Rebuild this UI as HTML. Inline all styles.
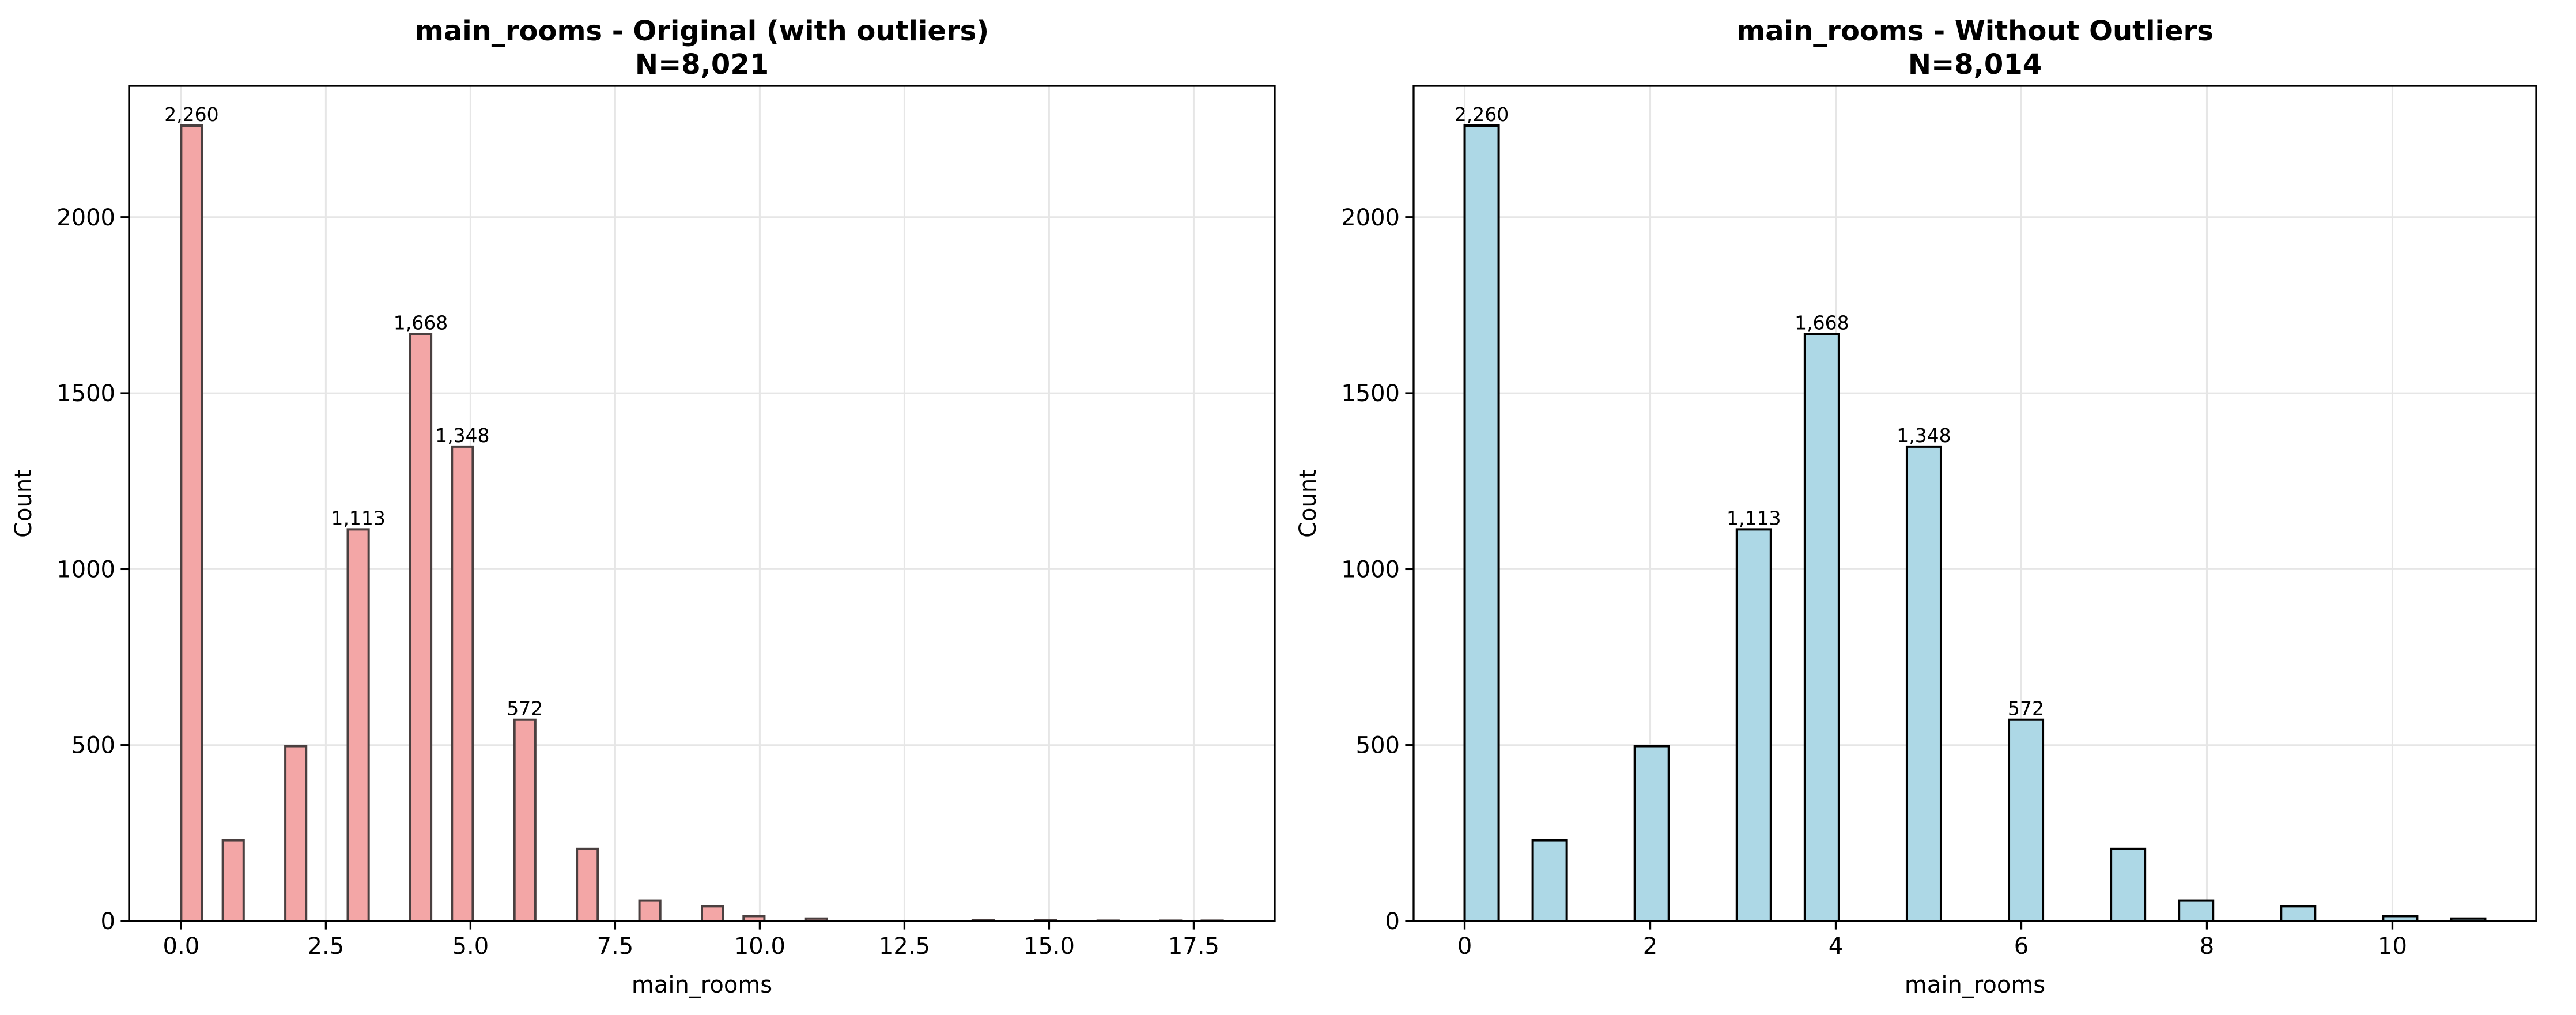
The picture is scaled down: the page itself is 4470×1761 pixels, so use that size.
<!DOCTYPE html>
<html><head><meta charset="utf-8"><style>
html,body{margin:0;padding:0;background:#fff}
svg{display:block;font-family:"DejaVu Sans","Liberation Sans",sans-serif}
</style></head><body>
<svg id="fig" width="4470" height="1761" viewBox="0 0 4470 1761" xmlns="http://www.w3.org/2000/svg"></svg>
<script>
const leftValues = [0,1,2,3,4,5,6,7,8,9,10,11,14,15,16,17,18];
const leftCounts = [2260,230,497,1113,1668,1348,572,205,58,42,14,7,2,2,1,1,1];
const rightValues = [0,1,2,3,4,5,6,7,8,9,10,11];
const rightCounts = [2260,230,497,1113,1668,1348,572,205,58,42,14,7];
const leftXTicks = [0,2.5,5,7.5,10,12.5,15,17.5];
const leftXTickLabels = ["0.0","2.5","5.0","7.5","10.0","12.5","15.0","17.5"];
const rightXTicks = [0,2,4,6,8,10];
const rightXTickLabels = ["0","2","4","6","8","10"];
const yTicks = [0,500,1000,1500,2000];
const yTickLabels = ["0","500","1000","1500","2000"];

const NS="http://www.w3.org/2000/svg";
const svg=document.getElementById('fig');
function mk(tag,attrs,parent){const e=document.createElementNS(NS,tag);for(const k in attrs)e.setAttribute(k,attrs[k]);(parent||svg).appendChild(e);return e;}

function panel(o){
  const g=mk('g',{});
  
  
  const T=149,B=1598;
  const ymax=2373;
  const sx=v=>o.L+(v-o.xmin)/(o.xmax-o.xmin)*(o.R-o.L);
  const sy=v=>B-v/ymax*(B-T);
  // grid
  o.xt.forEach(t=>{const l=mk('line',{x1:sx(t),x2:sx(t),y1:T,y2:B,stroke:'#e6e6e6','stroke-width':3},g);
    
    });
  yTicks.forEach(t=>{const l=mk('line',{x1:o.L,x2:o.R,y1:sy(t),y2:sy(t),stroke:'#e6e6e6','stroke-width':3},g);
    
    });
  // bars (histogram binning)
  const w=(o.hmax-o.hmin)/o.nb;
  const bins=new Array(o.nb).fill(0);
  o.vals.forEach((v,i)=>{let b=Math.floor((v-o.hmin)/w+1e-9);if(b>=o.nb)b=o.nb-1;bins[b]+=o.counts[i];});
  bins.forEach((c,b)=>{
    if(c<=0)return;
    const x0=sx(o.hmin+b*w),x1=sx(o.hmin+(b+1)*w);
    const r=mk('rect',{x:x0,y:sy(c),width:x1-x0,height:B-sy(c),fill:o.fill,stroke:o.edge,'stroke-width':4},g);
    
    
    if(c>500){
      const t=mk('text',{x:(x0+x1)/2,y:sy(c)-8,'text-anchor':'middle','font-size':33,fill:'#000'},g);
      t.textContent=c.toLocaleString('en-US');
      
      
    }
  });
  // spines
  const sp=mk('rect',{x:o.L,y:T,width:o.R-o.L,height:B-T,fill:'none',stroke:'#000','stroke-width':3.3},g);
  
  
  // x ticks
  o.xt.forEach((t,i)=>{
    mk('line',{x1:sx(t),x2:sx(t),y1:B,y2:B+14.6,stroke:'#000','stroke-width':3.3},g);
    const tx=mk('text',{x:sx(t),y:B+57,'text-anchor':'middle','font-size':40},g);
    tx.textContent=o.xl[i];
    
    
  });
  yTicks.forEach((t,i)=>{
    mk('line',{x1:o.L-14.6,x2:o.L,y1:sy(t),y2:sy(t),stroke:'#000','stroke-width':3.3},g);
    const tx=mk('text',{x:o.L-24,y:sy(t)+14,'text-anchor':'end','font-size':40},g);
    tx.textContent=yTickLabels[i];
    
    
  });
  const cx=(o.L+o.R)/2;
  const xlab=mk('text',{x:cx,y:1722,'text-anchor':'middle','font-size':40},g);
  xlab.textContent='main_rooms';
  
  
  const ylab=mk('text',{x:0,y:0,'text-anchor':'middle','font-size':40,transform:`translate(${o.L-170},${(T+B)/2}) rotate(-90)`},g);
  ylab.textContent='Count';
  
  
  const t1=mk('text',{x:cx,y:70,'text-anchor':'middle','font-size':48,'font-weight':'bold'},g);
  t1.textContent=o.title;
  
  
  const t2=mk('text',{x:cx,y:128,'text-anchor':'middle','font-size':48,'font-weight':'bold'},g);
  t2.textContent=o.sub;
  
  
}
panel({name:'original-histogram',L:224,R:2212,xmin:-0.9,xmax:18.9,hmin:0,hmax:18,nb:50,vals:leftValues,counts:leftCounts,
  fill:'#f3a6a6',edge:'#4a4040',xt:leftXTicks,xl:leftXTickLabels,title:'main_rooms - Original (with outliers)',sub:'N=8,021'});
panel({name:'without-outliers-histogram',L:2453,R:4401,xmin:-0.55,xmax:11.55,hmin:0,hmax:11,nb:30,vals:rightValues,counts:rightCounts,
  fill:'#add8e6',edge:'#000',xt:rightXTicks,xl:rightXTickLabels,title:'main_rooms - Without Outliers',sub:'N=8,014'});
</script>
</body></html>
